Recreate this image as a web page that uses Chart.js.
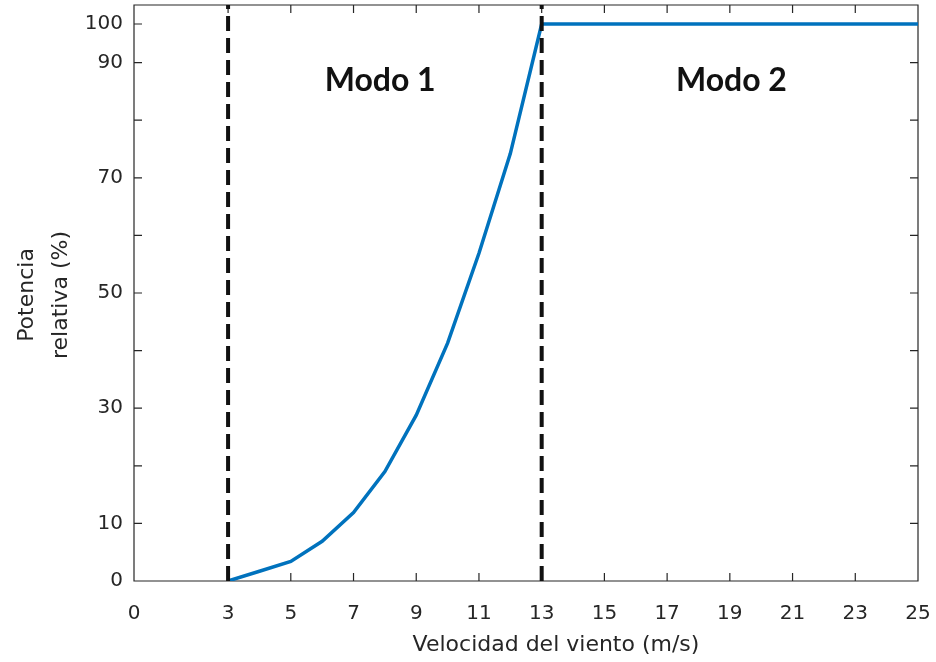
<!DOCTYPE html>
<html>
<head>
<meta charset="utf-8">
<title>Potencia relativa vs velocidad del viento</title>
<style>
  html, body { margin: 0; padding: 0; background: #ffffff; }
  canvas { display: block; }
</style>
<script src="https://cdn.jsdelivr.net/npm/chart.js@4.4.1/dist/chart.umd.min.js"></script>
</head>
<body>
<canvas id="curve" width="936" height="662"></canvas>
<script>
// Wind speed (m/s) and relative power output (%)
const windSpeed = [3, 4, 5, 6, 7, 8, 9, 10, 11, 12, 13, 14, 15, 16, 17, 18, 19, 20, 21, 22, 23, 24, 25];
const relativePower = [0, 1.7, 3.4, 6.9, 11.9, 19.0, 28.8, 41.3, 56.9, 74.2, 100, 100, 100, 100, 100, 100, 100, 100, 100, 100, 100, 100, 100];

// Wind speeds separating the operating modes
const modeBoundaries = [3, 13];
const modeNames = ['Modo 1', 'Modo 2'];

// Axis ticks and their printed labels
const xTicks = [0, 3, 5, 7, 9, 11, 13, 15, 17, 19, 21, 23, 25];
const yTicks = [0, 10, 20, 30, 40, 50, 60, 70, 80, 90, 100];
const yTickLabels = ['0', '10', '', '30', '', '50', '', '70', '', '90', '100'];

// The band above 90 % is drawn compressed on the vertical axis
const Y_BREAK = 90;
const Y_SQUEEZE = 0.67;
const Y_AXIS_TOP = Y_BREAK + 10 / Y_SQUEEZE;

class SqueezedTopScale extends Chart.LinearScale {
  static id = 'squeezedTop';
  toLinear(v) {
    return v <= Y_BREAK ? v : Y_BREAK + (v - Y_BREAK) * Y_SQUEEZE;
  }
  fromLinear(r) {
    return r <= Y_BREAK ? r : Y_BREAK + (r - Y_BREAK) / Y_SQUEEZE;
  }
  getPixelForValue(value) {
    const lo = this.toLinear(this.min);
    const hi = this.toLinear(this.max);
    return this.getPixelForDecimal((this.toLinear(value) - lo) / (hi - lo));
  }
  getValueForPixel(pixel) {
    const lo = this.toLinear(this.min);
    const hi = this.toLinear(this.max);
    return this.fromLinear(lo + this.getDecimalForPixel(pixel) * (hi - lo));
  }
}
Chart.register(SqueezedTopScale);

const AXIS_COLOR = '#262626';
const TICK_FONT = { family: 'DejaVu Sans', size: 20 };

// Box around the plot with inward tick marks on all four sides
const framePlugin = {
  id: 'frame',
  beforeDatasetsDraw(chart) {
    const { ctx, chartArea: a, scales } = chart;
    const len = 8;
    ctx.save();
    ctx.strokeStyle = AXIS_COLOR;
    ctx.lineWidth = 1.2;
    ctx.beginPath();
    ctx.rect(a.left, a.top, a.right - a.left, a.bottom - a.top);
    scales.x.ticks.forEach(t => {
      const px = scales.x.getPixelForValue(t.value);
      ctx.moveTo(px, a.bottom); ctx.lineTo(px, a.bottom - len);
      ctx.moveTo(px, a.top); ctx.lineTo(px, a.top + len);
    });
    scales.y.ticks.forEach(t => {
      const py = scales.y.getPixelForValue(t.value);
      ctx.moveTo(a.left, py); ctx.lineTo(a.left + len, py);
      ctx.moveTo(a.right, py); ctx.lineTo(a.right - len, py);
    });
    ctx.stroke();
    ctx.restore();
  }
};

// Mode names inside the plot and the axis titles
const textPlugin = {
  id: 'texts',
  afterDatasetsDraw(chart, args, opts) {
    const { ctx, chartArea: a, scales } = chart;
    ctx.save();
    ctx.fillStyle = '#111111';
    ctx.font = 'bold 32px Lato';
    ctx.textAlign = 'center';
    ctx.textBaseline = 'middle';
    modeNames.forEach((name, i) => {
      ctx.fillText(name, scales.x.getPixelForValue(opts.modeX[i]), scales.y.getPixelForValue(opts.modeY));
    });

    ctx.fillStyle = AXIS_COLOR;
    ctx.font = '22px "DejaVu Sans"';
    ctx.textBaseline = 'alphabetic';
    ctx.fillText('Velocidad del viento (m/s)', (a.left + a.right) / 2 + 30, 651);

    const midY = (a.top + a.bottom) / 2 + 2;
    ctx.translate(0, midY);
    ctx.rotate(-Math.PI / 2);
    ctx.fillText('Potencia', 0, 33);
    ctx.fillText('relativa (%)', 0, 67);
    ctx.restore();
  }
};

new Chart(document.getElementById('curve'), {
  type: 'line',
  data: {
    datasets: modeBoundaries.map(v => ({
      data: [{ x: v, y: 0 }, { x: v, y: Y_AXIS_TOP }],
      borderColor: '#111111',
      borderWidth: 4,
      borderDash: [15, 7],
      pointRadius: 0,
      tension: 0
    })).concat([{
      data: windSpeed.map((v, i) => ({ x: v, y: relativePower[i] })),
      borderColor: '#0072BD',
      borderWidth: 3.5,
      pointRadius: 0,
      tension: 0
    }])
  },
  options: {
    responsive: false,
    animation: false,
    devicePixelRatio: 1,
    layout: { padding: { top: 5, right: 18, left: 0, bottom: 0 } },
    plugins: {
      legend: { display: false },
      tooltip: { enabled: false },
      texts: { modeX: [7.85, 19.05], modeY: 86.8 }
    },
    scales: {
      x: {
        type: 'linear',
        min: 0,
        max: 25,
        afterBuildTicks: s => { s.ticks = xTicks.map(v => ({ value: v })); },
        afterFit: s => { s.height = 81; s.paddingLeft = 0; s.paddingRight = 0; },
        grid: { display: false },
        border: { display: false },
        ticks: {
          autoSkip: false,
          maxRotation: 0,
          padding: 13,
          color: AXIS_COLOR,
          font: TICK_FONT,
          callback: v => String(v)
        }
      },
      y: {
        type: 'squeezedTop',
        min: 0,
        max: Y_AXIS_TOP,
        afterBuildTicks: s => { s.ticks = yTicks.map(v => ({ value: v })); },
        afterFit: s => { s.width = 134; s.paddingTop = 0; s.paddingBottom = 0; },
        grid: { display: false },
        border: { display: false },
        ticks: {
          autoSkip: false,
          padding: 3,
          color: AXIS_COLOR,
          font: TICK_FONT,
          callback: v => yTickLabels[yTicks.indexOf(v)]
        }
      }
    }
  },
  plugins: [framePlugin, textPlugin]
});
</script>
</body>
</html>
